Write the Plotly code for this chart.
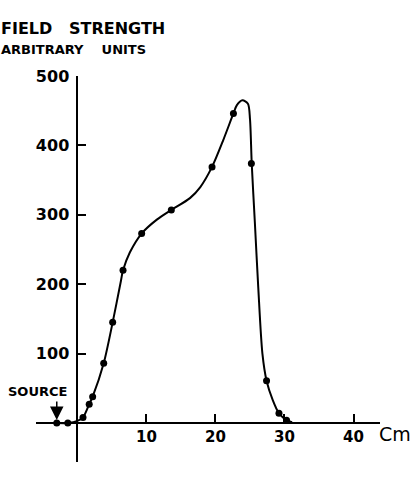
import plotly.graph_objects as go

# Measured points (dots)
point_cm = [-3.0, -1.4, 0.8, 1.7, 2.2, 3.8, 5.1, 6.6, 9.3, 13.6, 19.5, 22.6, 25.2, 27.4, 29.2, 30.3]
point_val = [0, 0, 8, 27, 38, 86, 145, 220, 273, 307, 369, 446, 374, 61, 14, 4]

# Smooth curve as drawn
curve_cm = [-3.0, -1.4, 0.0, 0.8, 1.7, 2.2, 3.8, 5.1, 6.3, 6.6, 7.6, 9.3, 11.5, 13.6,
            16.3, 17.8, 19.5, 21.1, 22.6, 23.1, 23.9, 24.7, 25.0, 25.25, 25.7, 26.2,
            26.8, 27.4, 28.3, 29.2, 30.3, 31.1]
curve_val = [0, 0, 3, 8, 27, 38, 86, 145, 205, 220, 246, 273, 293, 307,
             324, 340, 369, 407, 446, 458, 465, 460, 438, 374, 290, 195,
             100, 61, 33, 14, 4, 1]

x_ticks = [10, 20, 30, 40]
y_ticks = [100, 200, 300, 400, 500]
y_ticklabels = ["100", "200", "300", "400", "500"]

W, H = 412, 483
ML, MR, MT, MB = 36, 32, 76, 21
XR = [-6.01, 43.84]
YR = [-56.2, 500]

def px_x(p):
    return (p - ML) / (W - ML - MR)

def px_y(p):
    return (H - MB - p) / (H - MT - MB)

fig = go.Figure()
fig.add_trace(go.Scatter(x=curve_cm, y=curve_val, mode="lines",
                         line=dict(color="black", width=2, shape="spline", smoothing=0.8),
                         hoverinfo="skip", showlegend=False))
fig.add_trace(go.Scatter(x=point_cm, y=point_val, mode="markers",
                         marker=dict(color="black", size=7), showlegend=False))

font_num = dict(family="DejaVu Sans", color="black", weight="bold")

fig.update_layout(
    width=W, height=H,
    margin=dict(l=ML, r=MR, t=MT, b=MB),
    paper_bgcolor="white", plot_bgcolor="white",
    xaxis=dict(range=XR, showgrid=False, zeroline=False, showline=True,
               linecolor="black", linewidth=2, anchor="free",
               position=(0 - YR[0]) / (YR[1] - YR[0]),
               tickvals=x_ticks, ticktext=[str(v) for v in x_ticks],
               ticks="inside", ticklen=8, tickwidth=2, tickcolor="black",
               tickfont=dict(size=15, **font_num)),
    yaxis=dict(range=YR, showgrid=False, zeroline=False, showline=True,
               linecolor="black", linewidth=2, anchor="free",
               position=(0 - XR[0]) / (XR[1] - XR[0]),
               tickvals=y_ticks, ticktext=y_ticklabels,
               ticks="inside", ticklen=8, tickwidth=2, tickcolor="black",
               ticklabelstandoff=4,
               tickfont=dict(size=16, **font_num)),
)

bold = dict(family="DejaVu Sans", color="black", weight="bold")
fig.add_annotation(text="FIELD\u00a0\u00a0\u00a0STRENGTH", xref="paper", yref="paper",
                   x=px_x(-1), y=px_y(28.7), xanchor="left", yanchor="middle",
                   showarrow=False, font=dict(size=16, **bold))
fig.add_annotation(text="ARBITRARY\u00a0\u00a0\u00a0\u00a0UNITS", xref="paper", yref="paper",
                   x=px_x(-1), y=px_y(49.2), xanchor="left", yanchor="middle",
                   showarrow=False, font=dict(size=13, **bold))
fig.add_annotation(text="SOURCE", xref="paper", yref="paper",
                   x=px_x(37), y=px_y(391), xanchor="center", yanchor="middle",
                   showarrow=False, font=dict(size=13, **bold))
fig.add_annotation(text="Cm", xref="paper", yref="paper",
                   x=px_x(377), y=px_y(434), xanchor="left", yanchor="middle",
                   showarrow=False, font=dict(size=19, family="DejaVu Sans", color="black"))
fig.add_annotation(text="", x=point_cm[0], y=point_val[0], xref="x", yref="y",
                   showarrow=True, ax=0, ay=-23, arrowhead=2, arrowsize=1.8,
                   arrowwidth=1.5, arrowcolor="black", standoff=3)

fig.write_html("out.html")
